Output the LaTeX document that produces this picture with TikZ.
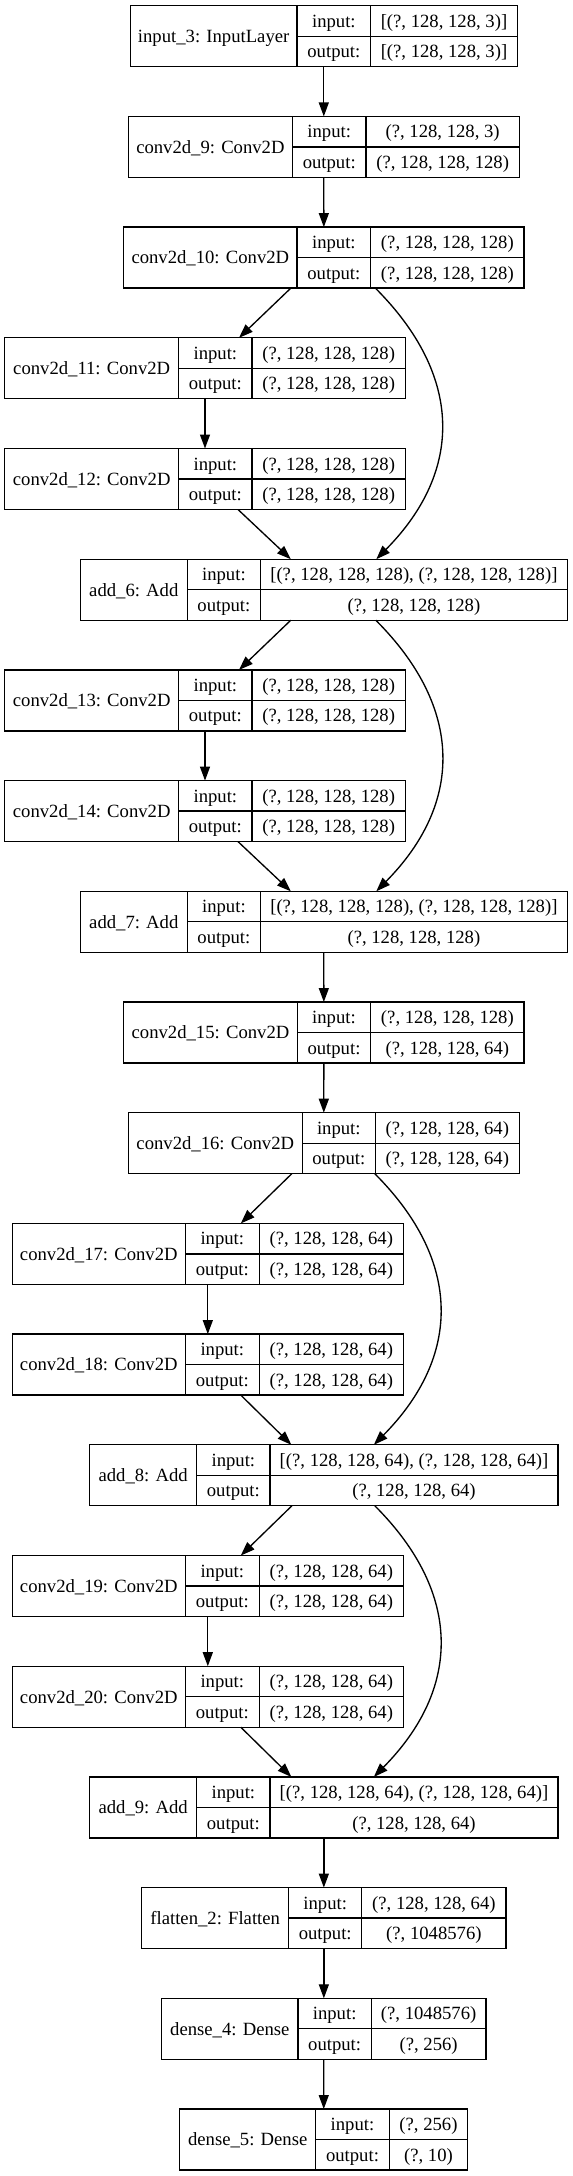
\documentclass[tikz,border=0pt]{standalone}
\usepackage{fontspec}
\setmainfont{Liberation Serif}
\usepackage{tikz}
\usetikzlibrary{arrows.meta, calc}

\tikzset{
  record/.style={draw, line width=1pt, inner sep=0pt, outer sep=0pt, minimum height=45.75pt, anchor=north west},
  rule/.style={line width=1pt},
  cell/.style={inner sep=0pt, text height=12pt, text depth=2.5pt},
  flow/.style={-{Triangle[length=10.5pt, width=7.5pt]}, line width=1pt},
}

% #1 node, #2 title, #3 row, #4 left, #5 first rule, #6 second rule, #7 right, #8 input, #9 output
\newcommand{\netlayer}[9]{%
  \pgfmathsetmacro{\rowtop}{5.7+110.7*#3}
  \node[record, minimum width={(#7-#4)*0.75pt}] (#1) at (#4,\rowtop) {};
  \draw[rule] (#5,\rowtop) -- ++(0,61);
  \draw[rule] (#6,\rowtop) -- ++(0,61);
  \draw[rule] (#5,\rowtop+30.5) -- (#7,\rowtop+30.5);
  \node[cell] (#1_name) at ({(#4+#5)/2},\rowtop+30.5) {#2};
  \node[cell] (#1_in)   at ({(#5+#6)/2},\rowtop+15.25) {input:};
  \node[cell] (#1_out)  at ({(#5+#6)/2},\rowtop+45.75) {output:};
  \node[cell] (#1_inv)  at ({(#6+#7)/2},\rowtop+15.25) {#8};
  \node[cell] (#1_outv) at ({(#6+#7)/2},\rowtop+45.75) {#9};
}

\begin{document}
\begin{tikzpicture}[x=0.75pt, y=-0.75pt, font=\fontsize{14}{17}\selectfont]

  \path[use as bounding box, fill=white] (0,0) rectangle (573,2176);

  \netlayer{input_3}{input\_3: InputLayer}{0}{130.3}{297}{370.7}{517.3}{[(?, 128, 128, 3)]}{[(?, 128, 128, 3)]}
  \netlayer{conv_9}{conv2d\_9: Conv2D}{1}{128.3}{292.5}{366}{519.3}{(?, 128, 128, 3)}{(?, 128, 128, 128)}
  \netlayer{conv_10}{conv2d\_10: Conv2D}{2}{123.7}{297}{370.7}{524}{(?, 128, 128, 128)}{(?, 128, 128, 128)}
  \netlayer{conv_11}{conv2d\_11: Conv2D}{3}{4.7}{178.7}{252}{405.3}{(?, 128, 128, 128)}{(?, 128, 128, 128)}
  \netlayer{conv_12}{conv2d\_12: Conv2D}{4}{4.7}{178.7}{252}{405.3}{(?, 128, 128, 128)}{(?, 128, 128, 128)}
  \netlayer{add_6}{add\_6: Add}{5}{80.4}{187.2}{260.6}{567.2}{[(?, 128, 128, 128), (?, 128, 128, 128)]}{(?, 128, 128, 128)}
  \netlayer{conv_13}{conv2d\_13: Conv2D}{6}{4.7}{178.7}{252}{405.3}{(?, 128, 128, 128)}{(?, 128, 128, 128)}
  \netlayer{conv_14}{conv2d\_14: Conv2D}{7}{4.7}{178.7}{252}{405.3}{(?, 128, 128, 128)}{(?, 128, 128, 128)}
  \netlayer{add_7}{add\_7: Add}{8}{80.4}{187.2}{260.6}{567.2}{[(?, 128, 128, 128), (?, 128, 128, 128)]}{(?, 128, 128, 128)}
  \netlayer{conv_15}{conv2d\_15: Conv2D}{9}{123.7}{297.3}{370.7}{524}{(?, 128, 128, 128)}{(?, 128, 128, 64)}
  \netlayer{conv_16}{conv2d\_16: Conv2D}{10}{128.3}{302.3}{375.3}{519.3}{(?, 128, 128, 64)}{(?, 128, 128, 64)}
  \netlayer{conv_17}{conv2d\_17: Conv2D}{11}{12.3}{185.3}{259.3}{403.3}{(?, 128, 128, 64)}{(?, 128, 128, 64)}
  \netlayer{conv_18}{conv2d\_18: Conv2D}{12}{12.3}{185.3}{259.3}{403.3}{(?, 128, 128, 64)}{(?, 128, 128, 64)}
  \netlayer{add_8}{add\_8: Add}{13}{89.7}{196.7}{270}{558}{[(?, 128, 128, 64), (?, 128, 128, 64)]}{(?, 128, 128, 64)}
  \netlayer{conv_19}{conv2d\_19: Conv2D}{14}{12.3}{185.3}{259.3}{403.3}{(?, 128, 128, 64)}{(?, 128, 128, 64)}
  \netlayer{conv_20}{conv2d\_20: Conv2D}{15}{12.3}{185.3}{259.3}{403.3}{(?, 128, 128, 64)}{(?, 128, 128, 64)}
  \netlayer{add_9}{add\_9: Add}{16}{89.7}{196.7}{270}{558}{[(?, 128, 128, 64), (?, 128, 128, 64)]}{(?, 128, 128, 64)}
  \netlayer{flatten_2}{flatten\_2: Flatten}{17}{141.7}{288.7}{361.7}{506}{(?, 128, 128, 64)}{(?, 1048576)}
  \netlayer{dense_4}{dense\_4: Dense}{18}{161.7}{298}{371.3}{486}{(?, 1048576)}{(?, 256)}
  \netlayer{dense_5}{dense\_5: Dense}{19}{179.7}{315.7}{389.3}{467.7}{(?, 256)}{(?, 10)}

  \path (input_3) edge [flow] (conv_9)
        (conv_9)  edge [flow] (conv_10)
        ($(conv_10.south)+(-33,0)$) edge [flow] ($(conv_11.north)+(34,0)$)
        (conv_11) edge [flow] (conv_12)
        ($(conv_12.south)+(33,0)$) edge [flow] ($(add_6.north)+(-33,0)$)
        ($(add_6.south)+(-33,0)$) edge [flow] ($(conv_13.north)+(34,0)$)
        (conv_13) edge [flow] (conv_14)
        ($(conv_14.south)+(33,0)$) edge [flow] ($(add_7.north)+(-33,0)$)
        (add_7)   edge [flow] (conv_15)
        (conv_15) edge [flow] (conv_16)
        ($(conv_16.south)+(-32,0)$) edge [flow] ($(conv_17.north)+(33,0)$)
        (conv_17) edge [flow] (conv_18)
        ($(conv_18.south)+(33,0)$) edge [flow] ($(add_8.north)+(-32.5,0)$)
        ($(add_8.south)+(-32,0)$) edge [flow] ($(conv_19.north)+(33,0)$)
        (conv_19) edge [flow] (conv_20)
        ($(conv_20.south)+(33,0)$) edge [flow] ($(add_9.north)+(-32.5,0)$)
        (add_9)     edge [flow] (flatten_2)
        (flatten_2) edge [flow] (dense_4)
        (dense_4)   edge [flow] (dense_5)
        ;

  % skip connections
  \draw[flow] ($(conv_10.south)+(51.5,0)$) .. controls +(88,88) and +(87,-88) .. ($(add_6.north)+(52.5,0)$);
  \draw[flow] ($(add_6.south)+(52,0)$) .. controls +(88,88) and +(87,-88) .. ($(add_7.north)+(52.5,0)$);
  \draw[flow] ($(conv_16.south)+(51,0)$) .. controls +(88,88) and +(87,-88) .. ($(add_8.north)+(50,0)$);
  \draw[flow] ($(add_8.south)+(51,0)$) .. controls +(88,88) and +(87,-88) .. ($(add_9.north)+(50,0)$);

\end{tikzpicture}
\end{document}
